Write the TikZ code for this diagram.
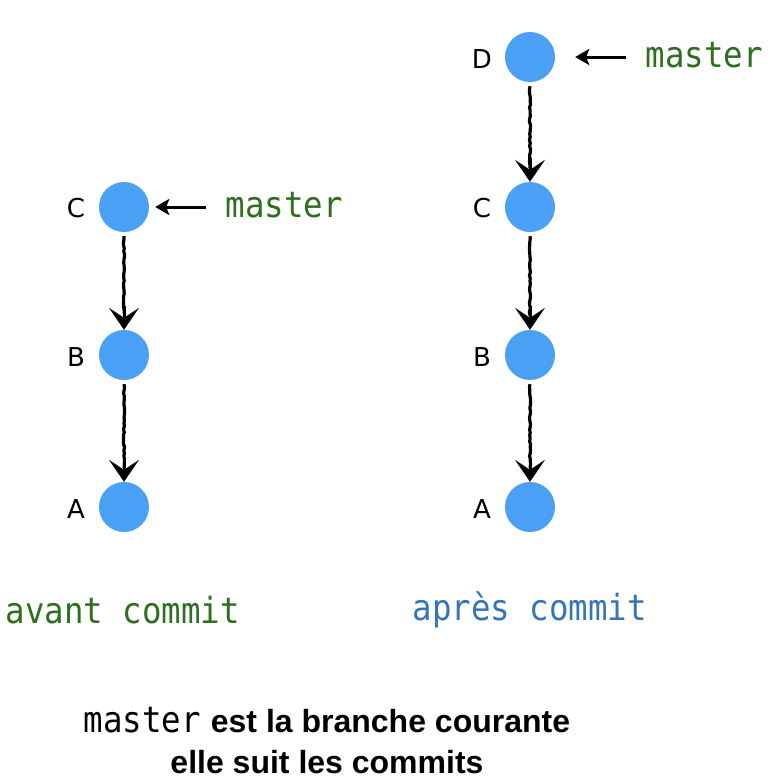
\documentclass[tikz,border=0pt]{standalone}
\usepackage{fontspec}
\setmainfont{Liberation Sans}
\newfontfamily\monof[FakeStretch=0.9]{DejaVu Sans Mono}
\newfontfamily\letterf{DejaVu Sans}
\usetikzlibrary{arrows.meta,decorations.pathmorphing}
\definecolor{commitblue}{RGB}{74,160,245}
\definecolor{gitgreen}{RGB}{46,110,30}
\definecolor{gitblue}{RGB}{54,116,184}
\tikzset{
  commit/.style={circle,fill=commitblue,minimum size=50pt,inner sep=0pt},
  letter/.style={font=\letterf\fontsize{26}{28}\selectfont,text=black},
  branchlbl/.style={font=\monof\fontsize{36}{40}\selectfont,text=gitgreen,anchor=west},
  sketchline/.style={line width=3.2pt,decorate,
    decoration={random steps,segment length=3pt,amplitude=0.6pt}},
  parenttip/.style={line width=3pt,-{Stealth[length=22pt,width=30pt,inset=10pt]}},
  refarrow/.style={line width=3pt,-{Stealth[length=14pt,width=16pt,inset=3pt]}},
}
\begin{document}
\begin{tikzpicture}[x=1pt,y=-1pt]
\useasboundingbox (0,0) rectangle (771,780);
% left column
\node[commit] (lC) at (124,207) {};
\node[commit] (lB) at (124,355) {};
\node[commit] (lA) at (124,507) {};
\node[letter] (lCl) at (76,208) {C};
\node[letter] (lBl) at (76,357) {B};
\node[letter] (lAl) at (76,509) {A};
\node[branchlbl] (lm) at (222,205) {master};
\coordinate (lmS) at (206,207);
\draw[sketchline] ([yshift=-4pt]lC.south) -- ([yshift=14pt]lB.north);
\draw[parenttip] ([yshift=24pt]lB.north) -- (lB.north);
\draw[sketchline] ([yshift=-4pt]lB.south) -- ([yshift=14pt]lA.north);
\draw[parenttip] ([yshift=24pt]lA.north) -- (lA.north);
\draw[refarrow] (lmS) -- ([xshift=6pt]lC.east);
% right column
\node[commit] (rD) at (530,57) {};
\node[commit] (rC) at (530,207) {};
\node[commit] (rB) at (530,355) {};
\node[commit] (rA) at (530,507) {};
\node[letter] (rDl) at (482,59) {D};
\node[letter] (rCl) at (482,208) {C};
\node[letter] (rBl) at (482,357) {B};
\node[letter] (rAl) at (482,509) {A};
\node[branchlbl] (rm) at (642,55) {master};
\coordinate (rmS) at (626,57);
\draw[sketchline] ([yshift=-4pt]rD.south) -- ([yshift=14pt]rC.north);
\draw[parenttip] ([yshift=24pt]rC.north) -- (rC.north);
\draw[sketchline] ([yshift=-4pt]rC.south) -- ([yshift=14pt]rB.north);
\draw[parenttip] ([yshift=24pt]rB.north) -- (rB.north);
\draw[sketchline] ([yshift=-4pt]rB.south) -- ([yshift=14pt]rA.north);
\draw[parenttip] ([yshift=24pt]rA.north) -- (rA.north);
\draw[refarrow] (rmS) -- ([xshift=20pt]rD.east);
% captions
\node[branchlbl] (avant) at (2,610) {avant commit};
\node[branchlbl,text=gitblue] (apres) at (409,610) {après commit};
\node[font=\fontsize{32}{41}\selectfont\bfseries,align=center] (note) at (327,741)
  {{\mdseries\monof\fontsize{36}{41}\selectfont master}\hspace{10pt}est la branche courante\\elle suit les commits};
\end{tikzpicture}
\end{document}
